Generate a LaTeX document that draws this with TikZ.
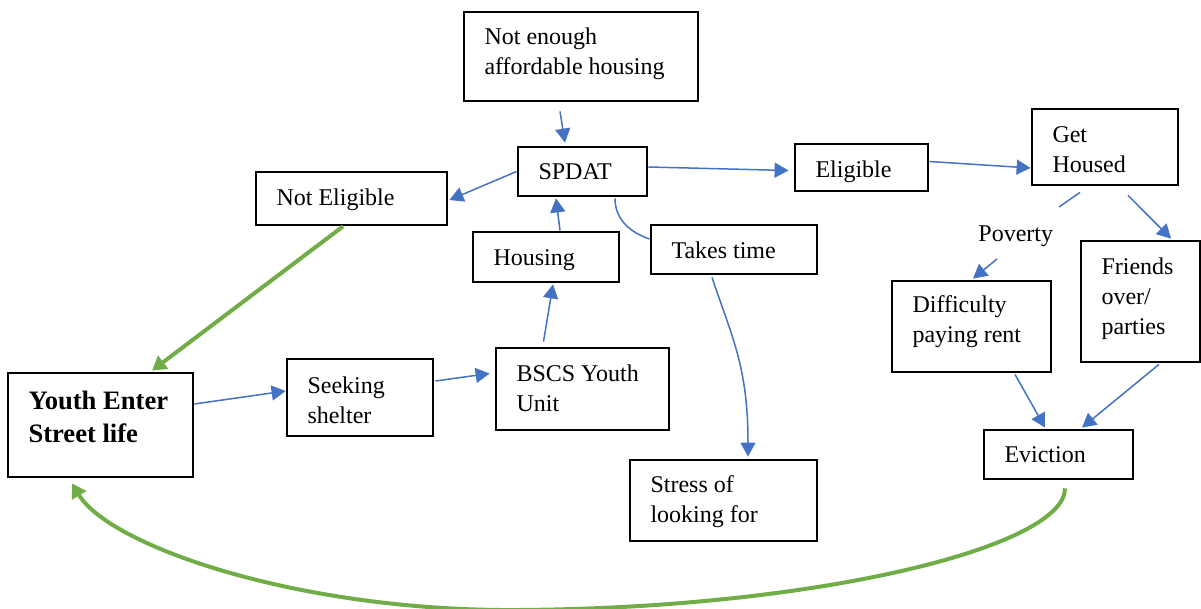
\documentclass[tikz,border=0pt]{standalone}
\usepackage{fontspec}
\setmainfont{Liberation Serif}
\usetikzlibrary{arrows.meta,calc}
\definecolor{flowblue}{HTML}{4472C4}
\definecolor{loopgreen}{HTML}{70AD47}
\tikzset{
  box/.style={draw=black, line width=1.4pt, inner sep=0pt},
  txt/.style={inner sep=0pt, anchor=base west, align=left,
              font=\fontsize{12}{15}\selectfont},
  bold txt/.style={txt, font=\fontsize{13.3}{16.5}\selectfont\bfseries},
  link/.style={draw=flowblue, line width=0.75pt},
  arrowlink/.style={link, -{Triangle[length=7pt,width=7.5pt]}},
  loop/.style={draw=loopgreen, line width=2pt, -{Triangle[length=7pt,width=8pt]}}
}
\begin{document}
\begin{tikzpicture}[x=0.5pt,y=-0.5pt]
\path[use as bounding box, fill=white] (0,0) rectangle (1201,609);

% boxes
\node[box, minimum width=117pt,  minimum height=44.5pt] (top)     at (581,56.5)    {};
\node[box, minimum width=64.5pt, minimum height=24.5pt] (spdat)   at (582.5,171.5) {};
\node[box, minimum width=95.5pt, minimum height=26.5pt] (notel)   at (351.5,198.5) {};
\node[box, minimum width=73pt,   minimum height=25pt]   (housing) at (546,257)     {};
\node[box, minimum width=83pt,   minimum height=24.5pt] (takes)   at (734,249.5)   {};
\node[box, minimum width=66.5pt, minimum height=23.5pt] (elig)    at (861.5,167.5) {};
\node[box, minimum width=73pt,   minimum height=38pt]   (housed)  at (1105,147)    {};
\node[box, minimum width=79.5pt, minimum height=45.5pt] (diff)    at (971.5,326.5) {};
\node[box, minimum width=59.5pt, minimum height=60.5pt] (friends) at (1140.5,301.5){};
\node[box, minimum width=92.5pt, minimum height=52pt]   (youth)   at (100.5,425)   {};
\node[box, minimum width=73pt,   minimum height=38.5pt] (seek)    at (360,397.5)   {};
\node[box, minimum width=86.5pt, minimum height=41pt]   (bscs)    at (582.5,389)   {};
\node[box, minimum width=93.5pt, minimum height=40.5pt] (stress)  at (723.5,500.5) {};
\node[box, minimum width=74.5pt, minimum height=24.5pt] (evict)   at (1058.5,454.5){};

% box texts (anchored on the baseline of their last line)
\node[txt] (topT)     at ($(top.west)+(21.5,18.5)$)      {Not enough\\affordable housing};
\node[txt] (spdatT)   at ($(spdat.west)+(21.5,8.5)$)     {SPDAT};
\node[txt] (notelT)   at ($(notel.west)+(21.5,7.5)$)     {Not Eligible};
\node[txt] (housingT) at ($(housing.west)+(21.5,9)$)     {Housing};
\node[txt] (takesT)   at ($(takes.west)+(21.5,9.5)$)     {Takes time};
\node[txt] (eligT)    at ($(elig.west)+(21.5,10.5)$)     {Eligible};
\node[txt] (housedT)  at ($(housed.west)+(21.5,26)$)     {Get\\Housed};
\node[txt] (diffT)    at ($(diff.west)+(21.5,16.5)$)     {Difficulty\\paying rent};
\node[txt] (friendsT) at ($(friends.west)+(21.5,33.5)$)  {Friends\\over/\\parties};
\node[bold txt] (youthT) at ($(youth.west)+(21.5,18)$)   {Youth Enter\\Street life};
\node[txt] (seekT)    at ($(seek.west)+(21.5,26.5)$)     {Seeking\\shelter};
\node[txt] (bscsT)    at ($(bscs.west)+(21.5,23)$)       {BSCS Youth\\Unit};
\node[txt] (stressT)  at ($(stress.west)+(21.5,22.5)$)   {Stress of\\looking for};
\node[txt] (evictT)   at ($(evict.west)+(21.5,8.5)$)     {Eviction};
\node[txt] (poverty)  at (978,242)                       {Poverty};

% blue connectors
\draw[arrowlink] ($(top.south)+(-21,9)$) -- ($(spdat.north)+(-17.5,-3)$);
\draw[arrowlink] (spdat.west) -- ($(notel.east)+(1,1.5)$);
\draw[arrowlink] ($(spdat.east)+(0,-4.5)$) -- ($(elig.west)+(-5,3)$);
\draw[arrowlink] ($(elig.east)+(0,-6)$) -- ($(housed.west)+(0,21)$);
\draw[arrowlink] ($(housing.north)+(14,0)$) -- ($(spdat.south)+(-26.5,1)$);
\draw[arrowlink] ($(bscs.north)+(-39,-5)$) -- ($(housing.south)+(7,1)$);
\draw[arrowlink] ($(seek.east)+(1,-16.5)$) -- ($(bscs.west)+(-5,-15.5)$);
\draw[arrowlink] ($(youth.east)+(0,-21)$) -- ($(seek.west)+(0,-6.5)$);
\draw[link] ($(spdat.south)+(32.5,1)$) .. controls +(0,22) and +(-18,-6) .. ($(takes.west)+(0,-10.5)$);
\draw[arrowlink] ($(takes.south)+(-22,2)$) .. controls +(20,60) and +(0,-90) .. ($(stress.north)+(24.5,-2)$);
\draw[link] ($(housed.south)+(-25,6)$) -- ($(poverty.base west)+(81,-35)$);
\draw[arrowlink] ($(poverty.base west)+(19,17)$) -- ($(diff.north)+(1.5,-1)$);
\draw[arrowlink] ($(housed.south)+(23,9)$) -- ($(friends.north)+(30.5,-1)$);
\draw[arrowlink] ($(diff.south)+(43.5,1)$) -- ($(evict.north)+(-13.5,-1)$);
\draw[arrowlink] ($(friends.south)+(18.5,1)$) -- ($(evict.north)+(23.5,-1)$);

% green loops back to the street
\draw[loop] ($(notel.south)+(-8.5,0)$) -- ($(youth.north)+(51.5,-1)$);
\coordinate (loopbottom) at (520,610);
\draw[loop] ($(evict.south)+(6.5,8)$) .. controls +(0,58) and (820,608) .. (loopbottom)
  .. controls (300,612) and +(38,63) .. ($(youth.south)+(-28.5,5)$);
\end{tikzpicture}
\end{document}
